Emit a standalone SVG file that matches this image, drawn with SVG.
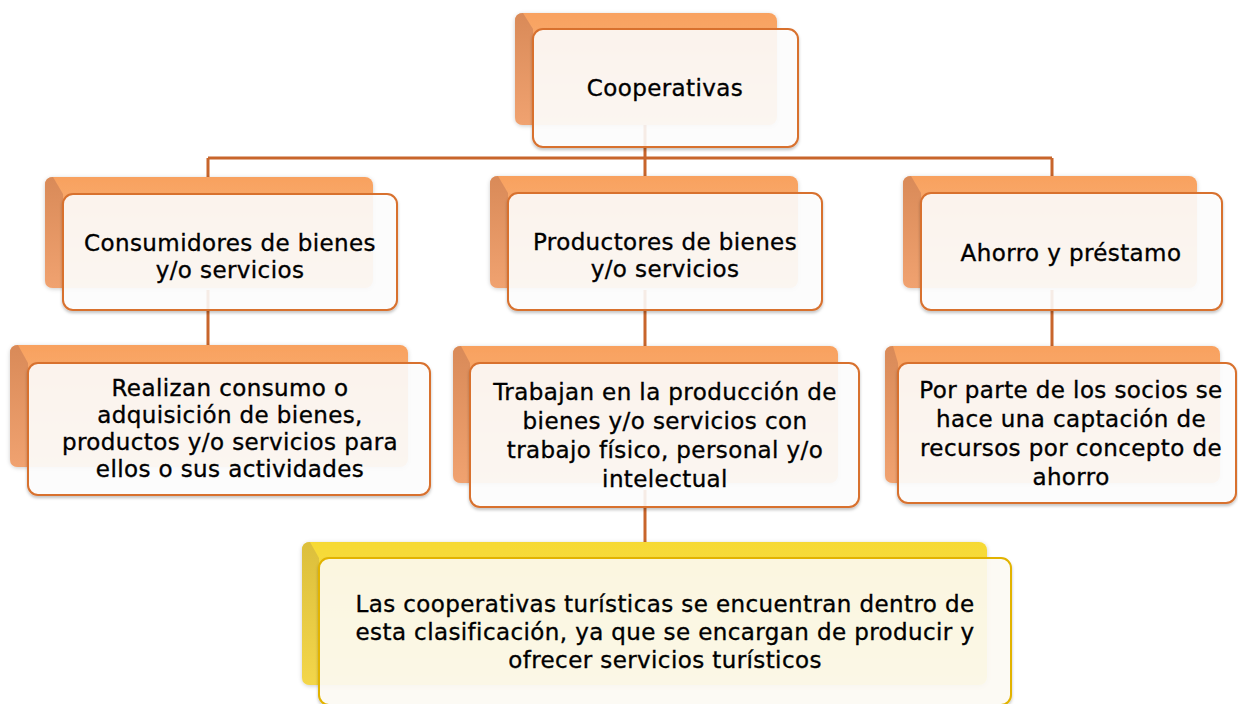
<svg xmlns="http://www.w3.org/2000/svg" width="1238" height="704" viewBox="0 0 1238 704">
<style>
.back{fill:url(#gBack)}
.bevel{fill:url(#gBevel)}
.front{fill:#ffffff;fill-opacity:0.87;stroke:#d8712f;stroke-width:2;filter:url(#sh)}
.yback{fill:url(#gYBack)}
.ybevel{fill:url(#gYBevel)}
.yfront{fill:#fffdf6;fill-opacity:0.87;stroke:#e2b300;stroke-width:2;filter:url(#sh)}
.conn{fill:none;stroke:#c8652b;stroke-width:3}
text{font-family:"DejaVu Sans","Open Sans",sans-serif;font-size:23px;letter-spacing:0.4px;fill:#000;stroke:#000;stroke-width:0.35;text-anchor:middle}
</style>
<defs>
<linearGradient id="gBack" x1="0" y1="0" x2="0" y2="1">
<stop offset="0" stop-color="#f8a15f"/>
<stop offset="1" stop-color="#fbc391"/>
</linearGradient>
<linearGradient id="gBevel" x1="0" y1="0" x2="0" y2="1">
<stop offset="0" stop-color="#d98a58"/>
<stop offset="1" stop-color="#f0a270"/>
</linearGradient>
<linearGradient id="gYBack" x1="0" y1="0" x2="0" y2="1">
<stop offset="0" stop-color="#f6d933"/>
<stop offset="1" stop-color="#fbe978"/>
</linearGradient>
<linearGradient id="gYBevel" x1="0" y1="0" x2="0" y2="1">
<stop offset="0" stop-color="#dcbf3c"/>
<stop offset="1" stop-color="#f3d64a"/>
</linearGradient>
<filter id="sh" x="-5%" y="-5%" width="110%" height="115%">
<feDropShadow dx="0" dy="2" stdDeviation="1.5" flood-color="#000" flood-opacity="0.25"/>
</filter>
<filter id="bsh" x="-5%" y="-5%" width="110%" height="115%">
<feDropShadow dx="0" dy="1" stdDeviation="2" flood-color="#000" flood-opacity="0.2"/>
</filter>
</defs>
<rect width="1238" height="704" fill="#ffffff"/>
<g id="connectors">
<path class="conn" d="M645 110 V158 M208 158 H1052 M208 158 V200 M645 158 V200 M1052 158 V200"/>
<path class="conn" d="M208 290 V370 M645 290 V370 M1052 290 V370"/>
<path class="conn" d="M645 490 V566"/>
</g>
<g id="n1">
<rect class="back" x="515" y="13" width="262" height="112" rx="8" filter="url(#bsh)"/>
<path class="bevel" d="M523 13 L533 29 V125 H523 Q515 125 515 117 V21 Q515 13 523 13 Z"/>
<rect class="front" x="533" y="29" width="265" height="118" rx="10"/>
<text x="665" y="96">Cooperativas</text>
</g>
<g id="n2">
<rect class="back" x="45" y="177" width="328" height="111" rx="8" filter="url(#bsh)"/>
<path class="bevel" d="M53 177 L63 194 V288 H53 Q45 288 45 280 V185 Q45 177 53 177 Z"/>
<rect class="front" x="63" y="194" width="334" height="116" rx="10"/>
<text x="230" y="251">Consumidores de bienes</text>
<text x="230" y="278">y/o servicios</text>
</g>
<g id="n3">
<rect class="back" x="490" y="176" width="308" height="112" rx="8" filter="url(#bsh)"/>
<path class="bevel" d="M498 176 L508 193 V288 H498 Q490 288 490 280 V184 Q490 176 498 176 Z"/>
<rect class="front" x="508" y="193" width="314" height="117" rx="10"/>
<text x="665" y="250">Productores de bienes</text>
<text x="665" y="277">y/o servicios</text>
</g>
<g id="n4">
<rect class="back" x="903" y="176" width="294" height="112" rx="8" filter="url(#bsh)"/>
<path class="bevel" d="M911 176 L921 193 V288 H911 Q903 288 903 280 V184 Q903 176 911 176 Z"/>
<rect class="front" x="921" y="193" width="301" height="117" rx="10"/>
<text x="1071" y="261">Ahorro y préstamo</text>
</g>
<g id="n5">
<rect class="back" x="10" y="345" width="398" height="122" rx="8" filter="url(#bsh)"/>
<path class="bevel" d="M18 345 L28 363 V467 H18 Q10 467 10 459 V353 Q10 345 18 345 Z"/>
<rect class="front" x="28" y="363" width="402" height="132" rx="10"/>
<text x="230" y="396">Realizan consumo o</text>
<text x="230" y="423">adquisición de bienes,</text>
<text x="230" y="450">productos y/o servicios para</text>
<text x="230" y="477">ellos o sus actividades</text>
</g>
<g id="n6">
<rect class="back" x="453" y="346" width="385" height="137" rx="8" filter="url(#bsh)"/>
<path class="bevel" d="M461 346 L470 363 V483 H461 Q453 483 453 475 V354 Q453 346 461 346 Z"/>
<rect class="front" x="470" y="363" width="389" height="144" rx="10"/>
<text x="665" y="400">Trabajan en la producción de</text>
<text x="665" y="429">bienes y/o servicios con</text>
<text x="665" y="458">trabajo físico, personal y/o</text>
<text x="665" y="487">intelectual</text>
</g>
<g id="n7">
<rect class="back" x="885" y="346" width="335" height="137" rx="8" filter="url(#bsh)"/>
<path class="bevel" d="M893 346 L898 363 V483 H893 Q885 483 885 475 V354 Q885 346 893 346 Z"/>
<rect class="front" x="898" y="363" width="338" height="140" rx="10"/>
<text x="1071" y="398">Por parte de los socios se</text>
<text x="1071" y="427">hace una captación de</text>
<text x="1071" y="456">recursos por concepto de</text>
<text x="1071" y="485">ahorro</text>
</g>
<g id="n8">
<rect class="yback" x="302" y="542" width="685" height="143" rx="8" filter="url(#bsh)"/>
<path class="ybevel" d="M310 542 L319 558 V685 H310 Q302 685 302 677 V550 Q302 542 310 542 Z"/>
<rect class="yfront" x="319" y="558" width="692" height="147" rx="10"/>
<text x="665" y="612">Las cooperativas turísticas se encuentran dentro de</text>
<text x="665" y="640">esta clasificación, ya que se encargan de producir y</text>
<text x="665" y="668">ofrecer servicios turísticos</text>
</g>
</svg>
